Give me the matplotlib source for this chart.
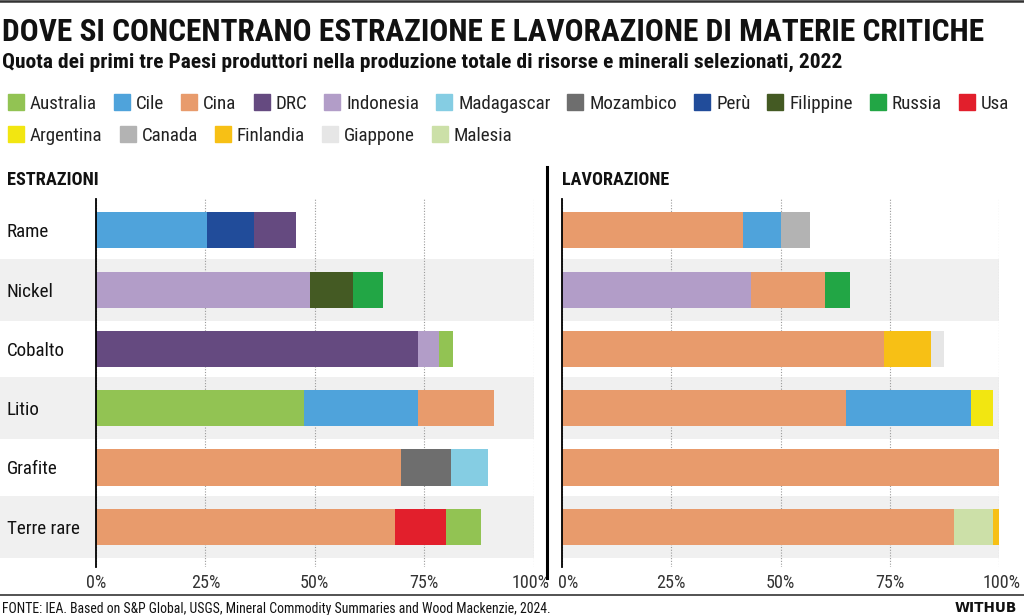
import os
import matplotlib
matplotlib.use("Agg")
import matplotlib.pyplot as plt
import matplotlib.font_manager as fm
import matplotlib.transforms as mtransforms
from matplotlib.patches import Rectangle
from matplotlib.lines import Line2D

title = "DOVE SI CONCENTRANO ESTRAZIONE E LAVORAZIONE DI MATERIE CRITICHE"
subtitle = "Quota dei primi tre Paesi produttori nella produzione totale di risorse e minerali selezionati, 2022"
source = "FONTE: IEA. Based on S&P Global, USGS, Mineral Commodity Summaries and Wood Mackenzie, 2024."

minerals = ["Rame", "Nickel", "Cobalto", "Litio", "Grafite", "Terre rare"]

estr_countries = [["Cile", "Perù", "DRC"],
                  ["Indonesia", "Filippine", "Russia"],
                  ["DRC", "Indonesia", "Australia"],
                  ["Australia", "Cile", "Cina"],
                  ["Cina", "Mozambico", "Madagascar"],
                  ["Cina", "Usa", "Australia"]]
estr_values = [[25.4, 10.7, 9.5],
               [49.0, 9.7, 6.8],
               [73.6, 4.9, 3.2],
               [47.6, 26.0, 17.4],
               [69.7, 11.5, 8.5],
               [68.4, 11.6, 8.0]]

lav_countries = [["Cina", "Cile", "Canada"],
                 ["Indonesia", "Cina", "Russia"],
                 ["Cina", "Finlandia", "Giappone"],
                 ["Cina", "Cile", "Argentina"],
                 ["Cina"],
                 ["Cina", "Malesia", "Finlandia"]]
lav_values = [[41.4, 8.8, 6.5],
              [43.3, 16.9, 5.7],
              [73.7, 10.6, 3.1],
              [65.0, 28.5, 5.1],
              [100.0],
              [89.6, 8.9, 1.5]]

legend_row1 = ["Australia", "Cile", "Cina", "DRC", "Indonesia", "Madagascar",
               "Mozambico", "Perù", "Filippine", "Russia", "Usa"]
legend_row2 = ["Argentina", "Canada", "Finlandia", "Giappone", "Malesia"]

colors = {
    "Australia": "#92c353", "Cile": "#4fa3db", "Cina": "#e89b6c",
    "DRC": "#654a80", "Indonesia": "#b29dc8", "Madagascar": "#85cde3",
    "Mozambico": "#6e6e6e", "Perù": "#214c9a", "Filippine": "#445a23",
    "Russia": "#22a645", "Usa": "#e21f2c", "Argentina": "#f2e611",
    "Canada": "#b3b3b3", "Finlandia": "#f7c015", "Giappone": "#e6e6e6",
    "Malesia": "#cce0a8",
}

ticks = [0, 25, 50, 75, 100]
tick_labels = ["0%", "25%", "50%", "75%", "100%"]

# layout (pixels of a 1024x615 canvas)
W, H = 1024, 615
BAND = "#f0f0f0"


def pick_font(files, weight="normal"):
    by_name = {os.path.basename(f.fname).lower(): f.fname for f in fm.fontManager.ttflist}
    for f in files:
        if f.lower() in by_name:
            return fm.FontProperties(fname=by_name[f.lower()])
    return fm.FontProperties(family="DejaVu Sans", weight=weight)


def get_font_properties():
    return pick_font(["LiberationSansNarrow-Regular.ttf", "RobotoCondensed-Regular.ttf",
                      "NotoSans-Condensed.ttf", "DejaVuSansCondensed.ttf"])


def get_bold_font_properties():
    return pick_font(["LiberationSansNarrow-Bold.ttf", "RobotoCondensed-Bold.ttf",
                      "NotoSans-CondensedBold.ttf", "DejaVuSansCondensed-Bold.ttf"], "bold")


def get_title_font_properties():
    return pick_font(["NotoSans-ExtraCondensedBlack.ttf", "NotoSans-ExtraCondensedExtraBold.ttf",
                      "NotoSans-ExtraCondensedBold.ttf", "NotoSans-CondensedBlack.ttf",
                      "LiberationSansNarrow-Bold.ttf", "RobotoCondensed-Bold.ttf",
                      "DejaVuSansCondensed-Bold.ttf"], "bold")


def fx(px):
    return px / W


def fy(py):
    return 1 - py / H


def width_of(fig, t):
    return t.get_window_extent(fig.canvas.get_renderer()).width


def fit(fig, t, width_px, max_size=None):
    size = t.get_fontsize() * width_px / width_of(fig, t)
    if max_size is not None:
        size = min(size, max_size)
    t.set_fontsize(size)
    return size


def probe_size(fig, text, width_px, max_size):
    p = fig.text(0, 0, text, fontproperties=get_font_properties(), fontsize=13)
    size = fit(fig, p, width_px, max_size)
    p.remove()
    return size


def draw_panel(fig, ax, countries, values, band_left, tick_size):
    for i, (cs, vs) in enumerate(zip(countries, values)):
        left = 0
        for c, v in zip(cs, vs):
            ax.barh(i, v, left=left, height=0.61, color=colors[c], zorder=3)
            left += v
    # alternating gray bands
    trans = mtransforms.blended_transform_factory(fig.transFigure, ax.transData)
    x1 = ax.get_position().x1
    for i in range(1, len(minerals), 2):
        ax.add_patch(Rectangle((band_left, i - 0.525), x1 - band_left, 1.05,
                               transform=trans, color=BAND, zorder=0.1,
                               clip_on=False, lw=0))
    ax.set_xlim(0, 100)
    ax.set_ylim(5.68, -0.53)
    ax.set_xticks(ticks)
    ax.set_xticklabels(tick_labels, fontproperties=get_font_properties(),
                       fontsize=tick_size, color="#333333")
    ax.set_yticks([])
    ax.tick_params(axis="x", length=0, pad=5)
    ax.set_facecolor("none")
    ax.set_axisbelow(True)
    ax.xaxis.grid(True, linestyle=(0, (1, 1.5)), color="#9a9a9a", linewidth=0.8)
    for s in ["top", "right", "bottom"]:
        ax.spines[s].set_visible(False)
    ax.spines["left"].set_linewidth(1.3)
    ax.spines["left"].set_color("black")
    ax.spines["left"].set_zorder(5)


def main():
    fig = plt.figure(figsize=(W / 100, H / 100), dpi=100)
    fig.patch.set_facecolor("white")

    tick_size = probe_size(fig, "25%", 30, 13)

    ax_top, ax_bot = 199, 567
    ax1 = fig.add_axes([fx(96), fy(ax_bot), fx(533.5 - 96), (ax_bot - ax_top) / H])
    ax2 = fig.add_axes([fx(561.7), fy(ax_bot), fx(999.3 - 561.7), (ax_bot - ax_top) / H])

    draw_panel(fig, ax1, estr_countries, estr_values, 0.0, tick_size)
    draw_panel(fig, ax2, lav_countries, lav_values, ax2.get_position().x0, tick_size)

    # nudge the edge labels away from the separator
    shift = [(ax2.get_xticklabels()[0], 6), (ax1.get_xticklabels()[-1], -3),
             (ax2.get_xticklabels()[-1], 2)]
    for lab, dx in shift:
        lab.set_transform(lab.get_transform() +
                          mtransforms.ScaledTranslation(dx / 100, 0, fig.dpi_scale_trans))

    # category labels
    cat_size = probe_size(fig, "Terre rare", 73, 15)
    trans = mtransforms.blended_transform_factory(fig.transFigure, ax1.transData)
    for i, m in enumerate(minerals):
        ax1.text(fx(7), i, m, transform=trans, ha="left", va="center_baseline",
                 fontproperties=get_font_properties(), fontsize=cat_size, color="#111111")

    # titles
    t = fig.text(fx(2), fy(41), title, fontproperties=get_title_font_properties(), fontsize=30,
                 color="#111111", va="baseline", ha="left")
    fit(fig, t, 983, 30)
    t = fig.text(fx(2), fy(68), subtitle, fontproperties=get_bold_font_properties(), fontsize=16,
                 color="#111111", va="baseline", ha="left")
    fit(fig, t, 836, 16)

    # legend: squares and labels flowing left to right, row 1 ends near x=1009
    sq, gap_in, gap_out = 16, 6, 17
    probes = [fig.text(0, 0, c, fontproperties=get_font_properties(), fontsize=13)
              for c in legend_row1]
    text_w = sum(width_of(fig, p) for p in probes)
    for p in probes:
        p.remove()
    fixed = len(legend_row1) * (sq + gap_in) + (len(legend_row1) - 1) * gap_out
    leg_size = min(14, 13 * (1009 - 8 - fixed) / text_w)
    for names, base in [(legend_row1, 110), (legend_row2, 142)]:
        x = 8
        for c in names:
            fig.patches.append(Rectangle((fx(x), fy(base)), fx(sq), sq / H,
                                         transform=fig.transFigure, color=colors[c]))
            t = fig.text(fx(x + sq + gap_in), fy(base - 1), c, fontproperties=get_font_properties(),
                         fontsize=leg_size, color="#222222", va="baseline", ha="left")
            x = x + sq + gap_in + width_of(fig, t) + gap_out

    # panel headers
    t = fig.text(fx(7), fy(185), "ESTRAZIONI", fontproperties=get_title_font_properties(),
                 fontsize=16, color="#111111", va="baseline", ha="left")
    fit(fig, t, 92, 22)
    t = fig.text(fx(562), fy(185), "LAVORAZIONE", fontproperties=get_title_font_properties(),
                 fontsize=16, color="#111111", va="baseline", ha="left")
    fit(fig, t, 107, 22)

    # separators and rules
    fig.lines.append(Line2D([fx(547), fx(547)], [fy(167), fy(578)], transform=fig.transFigure,
                            color="black", linewidth=2.2))
    fig.lines.append(Line2D([0, 1], [fy(1), fy(1)], transform=fig.transFigure,
                            color="#333333", linewidth=1.8))
    fig.lines.append(Line2D([0, 1], [fy(595), fy(595)], transform=fig.transFigure,
                            color="#444444", linewidth=1.3))

    # footer
    t = fig.text(fx(2), fy(607), source, fontproperties=get_font_properties(), fontsize=11,
                 color="#111111", va="center_baseline", ha="left")
    fit(fig, t, 546, 13)
    t = fig.text(fx(1017), fy(607), "WITHUB", family="DejaVu Sans", weight="heavy",
                 fontsize=11, color="#111111", va="center_baseline", ha="right")
    fit(fig, t, 62)

    fig.savefig("out.png", dpi=100)


if __name__ == "__main__":
    main()
